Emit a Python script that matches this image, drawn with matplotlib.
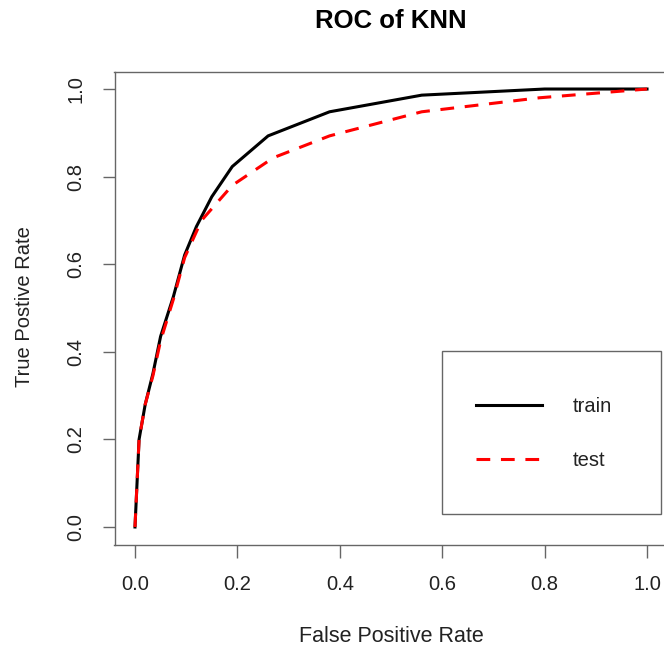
import matplotlib
matplotlib.use("Agg")
import matplotlib.pyplot as plt
from matplotlib.patches import Rectangle

# ROC points
train_fpr = [0.0, 0.004, 0.008, 0.02, 0.035, 0.05, 0.075, 0.097, 0.12, 0.15, 0.19, 0.26, 0.38, 0.56, 0.80, 1.0]
train_tpr = [0.0, 0.10, 0.20, 0.28, 0.35, 0.435, 0.526, 0.621, 0.686, 0.754, 0.823, 0.893, 0.948, 0.986, 1.0, 1.0]

test_fpr = [0.0, 0.004, 0.008, 0.02, 0.035, 0.05, 0.075, 0.097, 0.13, 0.19, 0.27, 0.38, 0.56, 0.79, 1.0]
test_tpr = [0.0, 0.10, 0.20, 0.28, 0.345, 0.425, 0.52, 0.615, 0.70, 0.78, 0.843, 0.893, 0.948, 0.980, 1.0]

ticks = [0.0, 0.2, 0.4, 0.6, 0.8, 1.0]
tick_labels = ["0.0", "0.2", "0.4", "0.6", "0.8", "1.0"]

plt.rcParams["font.family"] = ["Liberation Sans", "DejaVu Sans"]

W, H = 664, 647
fig = plt.figure(figsize=(W / 100, H / 100), dpi=100)
ax = fig.add_axes([114.5 / W, (H - 544.5) / H, 553 / W, 473 / H])

ax.plot(train_fpr, train_tpr, color="black", lw=2.2, label="train")
ax.plot(test_fpr, test_tpr, color="red", lw=2.2, dashes=(4.5, 3.5), label="test")

ax.set_xlim(-0.04, 1.04)
ax.set_ylim(-0.04, 1.04)
ax.set_xticks(ticks)
ax.set_xticklabels(tick_labels)
ax.set_yticks(ticks)
ax.set_yticklabels(tick_labels, rotation=90, va="center")
ax.tick_params(axis="both", length=9, width=1, color="#666666", labelsize=14.5,
               labelcolor="#222222")
ax.tick_params(axis="x", pad=13)
ax.tick_params(axis="y", pad=12)
for s in ax.spines.values():
    s.set_color("#666666")
    s.set_linewidth(1)

# legend: entries without frame, frame drawn as a box like R's legend()
leg = ax.legend(loc="center", bbox_to_anchor=(544 / W, 1 - 433.5 / H),
                bbox_transform=fig.transFigure, fontsize=14.5, frameon=False,
                borderpad=0, labelspacing=1.75, handlelength=3.3,
                handletextpad=1.55)
for t in leg.get_texts():
    t.set_color("#222222")
fig.add_artist(Rectangle((442 / W, 1 - 514 / H), 219 / W, 163 / H,
                         transform=fig.transFigure, fill=False,
                         edgecolor="#666666", linewidth=1))

fig.text(391 / W, 1 - 21 / H, "ROC of KNN", ha="center", va="center",
         fontsize=18.5, fontweight="bold")
fig.text(391 / W, 1 - 636 / H, "False Positive Rate", ha="center", va="center",
         fontsize=15.5, color="#222222")
fig.text(25 / W, 1 - 307 / H, "True Postive Rate", ha="center", va="center",
         rotation=90, fontsize=14.5, color="#222222")

fig.savefig("out.png", dpi=100)
